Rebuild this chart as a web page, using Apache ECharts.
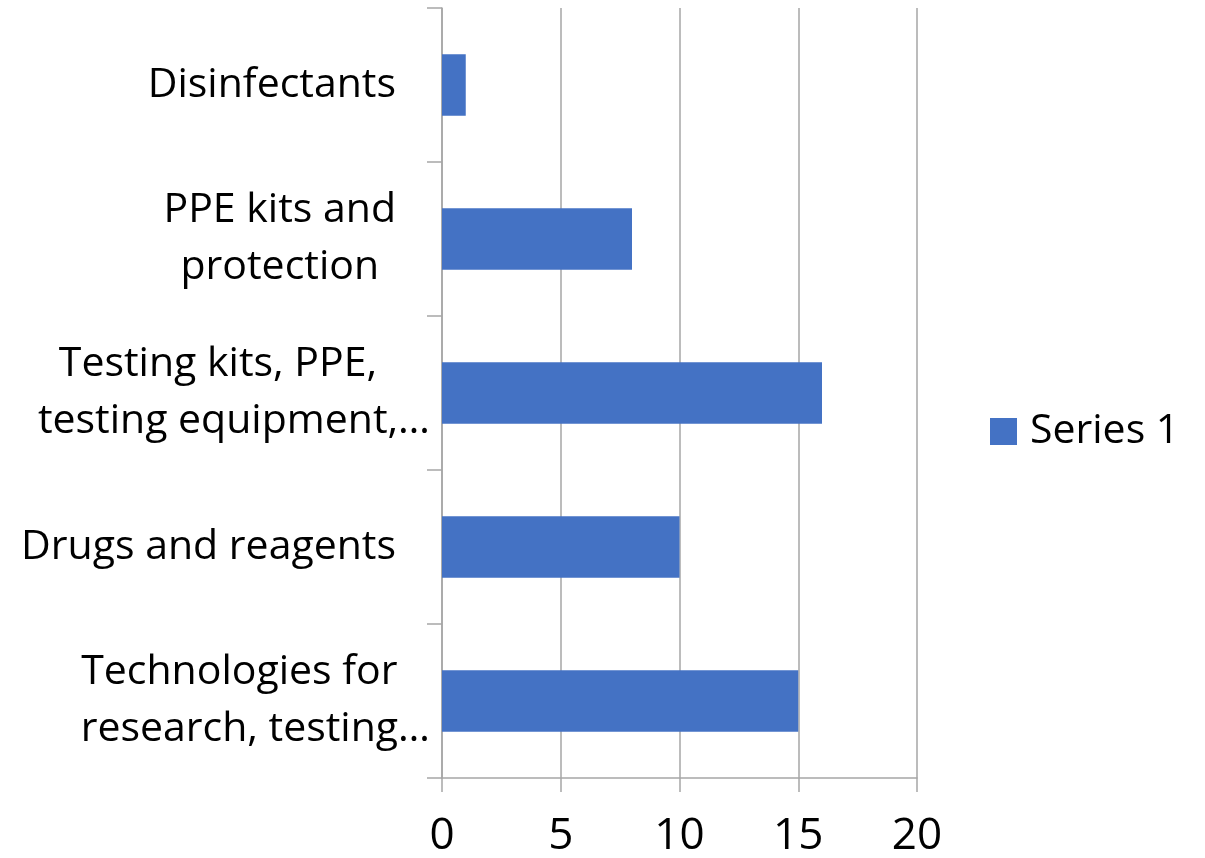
<!DOCTYPE html>
<html>
<head>
<meta charset="utf-8">
<script src="https://cdn.jsdelivr.net/npm/echarts@6/dist/echarts.min.js"></script>
<style>
html, body { margin: 0; padding: 0; background: #fff; }
#chart { width: 1205px; height: 858px; }
</style>
</head>
<body>
<div id="chart"></div>
<script>
// categories listed top to bottom (axis is inverted)
var categories = [
    'Disinfectants',
    'PPE kits and\nprotection',
    'Testing kits, PPE,\ntesting equipment,\u2026',
    'Drugs and reagents',
    'Technologies for\nresearch, testing\u2026'
];
var series1 = [1, 8, 16, 10, 15];
var xTicks = [0, 5, 10, 15, 20];

var axisGray = '#a6a6a6';
var font = 'Open Sans';
var labelFont = { fontSize: 41, fontFamily: font, color: '#000', lineHeight: 57, align: 'center' };

// wrapped lines are centred like the office chart; a trailing "…" hangs past the right edge
function catLabel(v) {
    var lines = v.split('\n');
    var cut = lines[lines.length - 1].slice(-1) == '\u2026';
    var out = [];
    for (var i = 0; i < lines.length; i++) {
        if (cut) {
            out.push((i < lines.length - 1 ? '{e|' : '{c|') + lines[i] + '}');
        } else {
            out.push('{p|' + lines[i] + '}');
        }
    }
    return out.join('\n');
}

var chart = echarts.init(document.getElementById('chart'));
chart.setOption({
    animation: false,
    textStyle: { fontFamily: font },
    grid: { left: 442, right: 288, top: 8, bottom: 80 },
    legend: {
        data: ['Series 1'],
        orient: 'vertical',
        left: 985, top: 406,
        itemWidth: 27, itemHeight: 27, itemGap: 10,
        icon: 'rect',
        textStyle: { fontSize: 41, color: '#000', fontFamily: font, padding: [0, 0, 0, 8] }
    },
    xAxis: {
        type: 'value',
        min: xTicks[0], max: xTicks[xTicks.length - 1], interval: 5,
        axisLine: { show: true, lineStyle: { color: axisGray, width: 1.5 } },
        axisTick: { show: true, length: 14, lineStyle: { color: axisGray, width: 1.5 } },
        splitLine: { show: true, lineStyle: { color: axisGray, width: 1.5 } },
        axisLabel: { fontSize: 44, color: '#000', margin: 36, fontFamily: font }
    },
    yAxis: {
        type: 'category',
        inverse: true,
        data: categories,
        axisLine: { show: true, lineStyle: { color: axisGray, width: 1.5 } },
        axisTick: { show: true, length: 15, lineStyle: { color: axisGray, width: 1.5 } },
        axisLabel: {
            fontSize: 41, color: '#000', margin: 12, lineHeight: 57, align: 'right', fontFamily: font,
            formatter: catLabel,
            rich: {
                p: Object.assign({ padding: [0, 34, 0, 0] }, labelFont),
                e: Object.assign({ padding: [0, 32, 0, 0] }, labelFont),
                c: Object.assign({}, labelFont)
            }
        }
    },
    series: [{
        name: 'Series 1',
        type: 'bar',
        data: series1,
        barWidth: '40%',
        itemStyle: { color: '#4472C4' }
    }]
});
</script>
</body>
</html>
